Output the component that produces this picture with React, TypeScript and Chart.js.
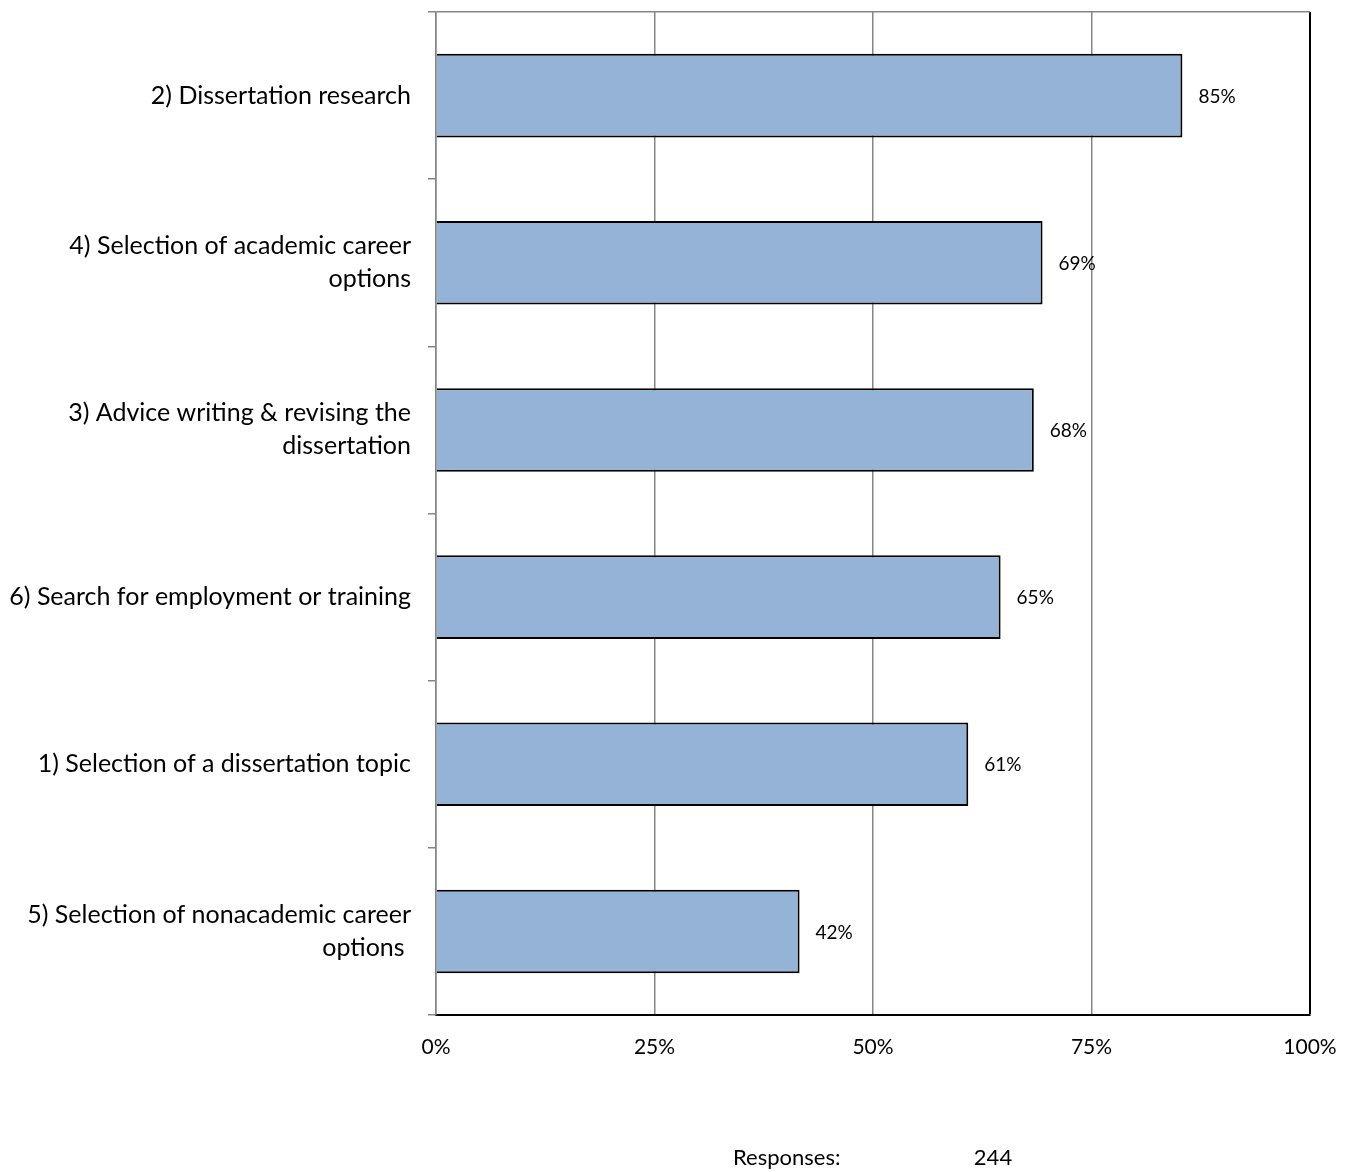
import React, { useEffect, useRef } from "react";
import { Chart, registerables } from "chart.js";

Chart.register(...registerables);

const categories: (string | string[])[] = [
  "2) Dissertation research",
  ["4) Selection of academic career", "options"],
  ["3) Advice writing & revising the", "dissertation"],
  "6) Search for employment or training",
  "1) Selection of a dissertation topic",
  ["5) Selection of nonacademic career", "options "],
];
const values = [85.4, 69.4, 68.4, 64.6, 60.9, 41.6];
const xTicks = [0, 25, 50, 75, 100];
const responsesLabel = "Responses:";
const responsesCount = "244";

const FONT = "Lato, 'Open Sans', sans-serif";
const GRAY = "#868686";

export default function App() {
  const ref = useRef<HTMLCanvasElement | null>(null);
  useEffect(() => {
    document.body.style.margin = "0";
    const canvas = ref.current!;
    const labelPlugin = {
      id: "valueLabels",
      afterDatasetsDraw(chart: any) {
        const ctx = chart.ctx;
        const meta = chart.getDatasetMeta(0);
        ctx.save();
        ctx.font = `19px ${FONT}`;
        ctx.fillStyle = "#000";
        ctx.textAlign = "left";
        ctx.textBaseline = "middle";
        meta.data.forEach((bar: any, i: number) => {
          ctx.fillText(Math.round(values[i]) + "%", bar.x + 16, bar.y + 1);
        });
        ctx.font = `22px ${FONT}`;
        ctx.textAlign = "left";
        ctx.fillText(responsesLabel, 733, 1158);
        ctx.textAlign = "center";
        ctx.fillText(responsesCount, 993, 1158);
        ctx.restore();
      },
    };
    const chart = new Chart(canvas, {
      type: "bar",
      data: {
        labels: categories,
        datasets: [
          {
            data: values,
            backgroundColor: "#95B3D7",
            borderColor: "#000",
            borderWidth: 2,
            barPercentage: 0.5,
            categoryPercentage: 1,
          },
        ],
      },
      options: {
        indexAxis: "y",
        animation: false,
        responsive: false,
        maintainAspectRatio: false,
        layout: { padding: { top: 12, right: 42, left: 0, bottom: 0 } },
        plugins: { legend: { display: false }, tooltip: { enabled: false } },
        scales: {
          x: {
            min: 0,
            max: 100,
            afterBuildTicks: (s: any) => {
              s.ticks = xTicks.map((v) => ({ value: v }));
            },
            afterFit: (s: any) => {
              s.height = 157;
              s.paddingLeft = 0;
              s.paddingRight = 0;
            },
            ticks: {
              callback: (v: any) => v + "%",
              font: { family: FONT, size: 21 },
              color: "#000",
              padding: 20,
              maxRotation: 0,
            },
            grid: {
              drawTicks: false,
              color: (c: any) => (c.tick && c.tick.value === 100 ? "#000" : GRAY),
              lineWidth: (c: any) => (c.tick && c.tick.value === 100 ? 2 : 1.5),
            },
            border: { color: "#000", width: 2 },
          },
          y: {
            afterFit: (s: any) => {
              s.width = 436;
              s.paddingTop = 0;
              s.paddingBottom = 0;
            },
            ticks: {
              font: { family: FONT, size: 25, lineHeight: 1.32 },
              color: "#000",
              padding: 17,
            },
            grid: {
              offset: true,
              drawOnChartArea: true,
              color: (c: any) => (c.index === 0 ? GRAY : "rgba(0,0,0,0)"),
              tickColor: GRAY,
              tickLength: 8,
              lineWidth: 1.5,
            },
            border: { color: GRAY, width: 1.5 },
          },
        },
      },
      plugins: [labelPlugin],
    } as any);
    return () => chart.destroy();
  }, []);
  return (
    <div style={{ width: 1352, height: 1172, background: "#fff" }}>
      <canvas ref={ref} width={1352} height={1172} style={{ width: 1352, height: 1172, display: "block" }} />
    </div>
  );
}
